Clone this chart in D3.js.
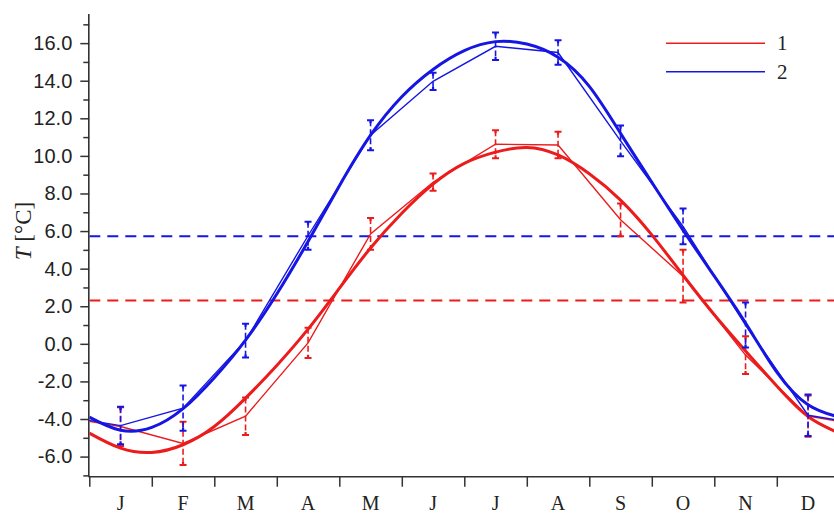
<!DOCTYPE html>
<html><head><meta charset="utf-8">
<script src="https://cdn.jsdelivr.net/npm/d3@7"></script>
<style>body{margin:0;background:#fff}svg{display:block;background:#fff}</style>
</head><body><svg id="c" width="834" height="516"></svg>
<script>
// ---- data ----
const months = ["J","F","M","A","M","J","J","A","S","O","N","D"];
const seriesNames = ["1","2"];
const redMean = [-4.4,-5.3,-3.85,0.05,5.85,8.6,10.62,10.58,6.6,3.6,-0.6,-3.85];
const redErr  = [1.03,1.15,1.0,0.8,0.84,0.46,0.75,0.7,0.87,1.4,1.0,1.1];
const blueMean = [-4.35,-3.42,0.17,5.75,11.1,13.97,15.83,15.5,10.8,6.25,1.0,-3.8];
const blueErr  = [1.0,1.2,0.9,0.75,0.8,0.46,0.73,0.65,0.82,0.95,1.2,1.1];
// fitted curves read at half-month steps (0, 0.5, ..., 12 months)
const fitRed  = [-4.75,-5.55,-5.78,-5.37,-4.4,-2.89,-1.15,0.78,2.95,5.1,6.95,8.5,9.6,10.2,10.45,10.05,9.05,7.65,5.8,3.65,1.55,-0.38,-2.25,-3.87,-4.75];
const fitBlue = [-3.9,-4.6,-4.45,-3.45,-1.8,0.2,2.65,5.45,8.4,11.1,13.15,14.6,15.6,16.08,15.95,15.25,13.7,11.2,8.6,6.05,3.6,1.1,-1.5,-3.24,-3.9];
const meanRed = 2.3, meanBlue = 5.73;
const yMajor = [-6,-4,-2,0,2,4,6,8,10,12,14,16];
const yMinor = [-7,-5,-3,-1,1,3,5,7,9,11,13,15,17];

// ---- setup ----
const RED = "#ec1c1c", BLUE = "#1616e4", AX = "#333";
const svg = d3.select("#c");
const x = d3.scaleLinear().domain([0,12]).range([89.3,839.3]);
const y = d3.scaleLinear().domain([-7.07,17.55]).range([476.7,14]);
const [x0] = x.range(); const [yb, yt] = y.range();

svg.append("defs").append("clipPath").attr("id","clip")
  .append("rect").attr("x",x0).attr("y",yt).attr("width",834-x0).attr("height",yb-yt);

// axes
const gy = svg.append("g").attr("transform",`translate(${x0},0)`)
  .call(d3.axisLeft(y).tickValues(yMajor).tickSize(9).tickPadding(8).tickFormat(d=>d.toFixed(1)));
const gy2 = svg.append("g").attr("transform",`translate(${x0},0)`)
  .call(d3.axisLeft(y).tickValues(yMinor).tickSize(6).tickFormat(""));
const gx = svg.append("g").attr("transform",`translate(0,${yb})`)
  .call(d3.axisBottom(x).tickValues(d3.range(0,13)).tickSize(10).tickFormat(""));
[gy,gy2,gx].forEach(g=>{
  g.select(".domain").attr("stroke",AX).attr("stroke-width",1.6);
  g.selectAll(".tick line").attr("stroke",AX).attr("stroke-width",1.5);
});
gy.select(".domain").attr("d",`M-0.5,${yt}V${yb}`);
gy2.select(".domain").remove();
gx.select(".domain").attr("d",`M${x0-0.8},0H834`);
gy.selectAll(".tick text").attr("font-family","'Liberation Sans',Arial,sans-serif")
  .attr("font-size",20).attr("fill","#222");

svg.append("g").selectAll("text").data(months).join("text")
  .attr("x",(d,i)=>x(i+0.5)).attr("y",yb+33).attr("text-anchor","middle")
  .attr("font-family","'Liberation Serif','Times New Roman',serif").attr("font-size",20)
  .attr("fill","#222").text(d=>d);

const yl = svg.append("text").attr("transform","translate(31,231) rotate(-90)")
  .attr("text-anchor","middle").attr("font-family","'Liberation Serif','Times New Roman',serif")
  .attr("font-size",23).attr("fill","#222");
yl.append("tspan").attr("font-style","italic").text("T");
yl.append("tspan").text(" [°C]");

// plot
const plot = svg.append("g").attr("clip-path","url(#clip)");
plot.append("line").attr("x1",x0).attr("x2",834).attr("y1",y(meanRed)).attr("y2",y(meanRed))
  .attr("stroke",RED).attr("stroke-width",2).attr("stroke-dasharray","11,7");
plot.append("line").attr("x1",x0).attr("x2",834).attr("y1",y(meanBlue)).attr("y2",y(meanBlue))
  .attr("stroke",BLUE).attr("stroke-width",2).attr("stroke-dasharray","11,7");

function drawSeries(mean, err, fit, color){
  // fitted curve
  const fitLine = d3.line().x((d,i)=>x(i*0.5)).y(d=>y(d)).curve(d3.curveNatural);
  plot.append("path").datum(fit).attr("d",fitLine).attr("fill","none")
    .attr("stroke",color).attr("stroke-width",3);
  // thin line through monthly means (wrapping year)
  const pts = [[-0.5,mean[11]]].concat(mean.map((v,i)=>[i+0.5,v])).concat([[12.5,mean[0]]]);
  plot.append("path").datum(pts).attr("d",d3.line().x(d=>x(d[0])).y(d=>y(d[1])))
    .attr("fill","none").attr("stroke",color).attr("stroke-width",1.4);
  // error bars
  const g = plot.append("g").attr("stroke",color);
  mean.forEach((v,i)=>{
    const cx = x(i+0.5), t = y(v+err[i]), b = y(v-err[i]);
    g.append("line").attr("x1",cx).attr("x2",cx).attr("y1",t).attr("y2",b)
      .attr("stroke-width",1.6).attr("stroke-dasharray","6,3");
    g.append("line").attr("x1",cx-3.5).attr("x2",cx+3.5).attr("y1",t).attr("y2",t).attr("stroke-width",2);
    g.append("line").attr("x1",cx-3.5).attr("x2",cx+3.5).attr("y1",b).attr("y2",b).attr("stroke-width",2);
    g.append("line").attr("x1",cx).attr("x2",cx).attr("y1",t).attr("y2",t+3).attr("stroke-width",2.2);
    g.append("line").attr("x1",cx).attr("x2",cx).attr("y1",b).attr("y2",b-3).attr("stroke-width",2.2);
  });
}
drawSeries(redMean, redErr, fitRed, RED);
drawSeries(blueMean, blueErr, fitBlue, BLUE);

// legend
const leg = svg.append("g");
[[RED,43.3],[BLUE,71.7]].forEach(([c,ly],i)=>{
  leg.append("line").attr("x1",666).attr("x2",765).attr("y1",ly).attr("y2",ly)
    .attr("stroke",c).attr("stroke-width",1.6);
  leg.append("text").attr("x",777).attr("y",ly+7).attr("font-family","'Liberation Serif','Times New Roman',serif")
    .attr("font-size",21).attr("fill","#222").text(seriesNames[i]);
});
</script></body></html>
